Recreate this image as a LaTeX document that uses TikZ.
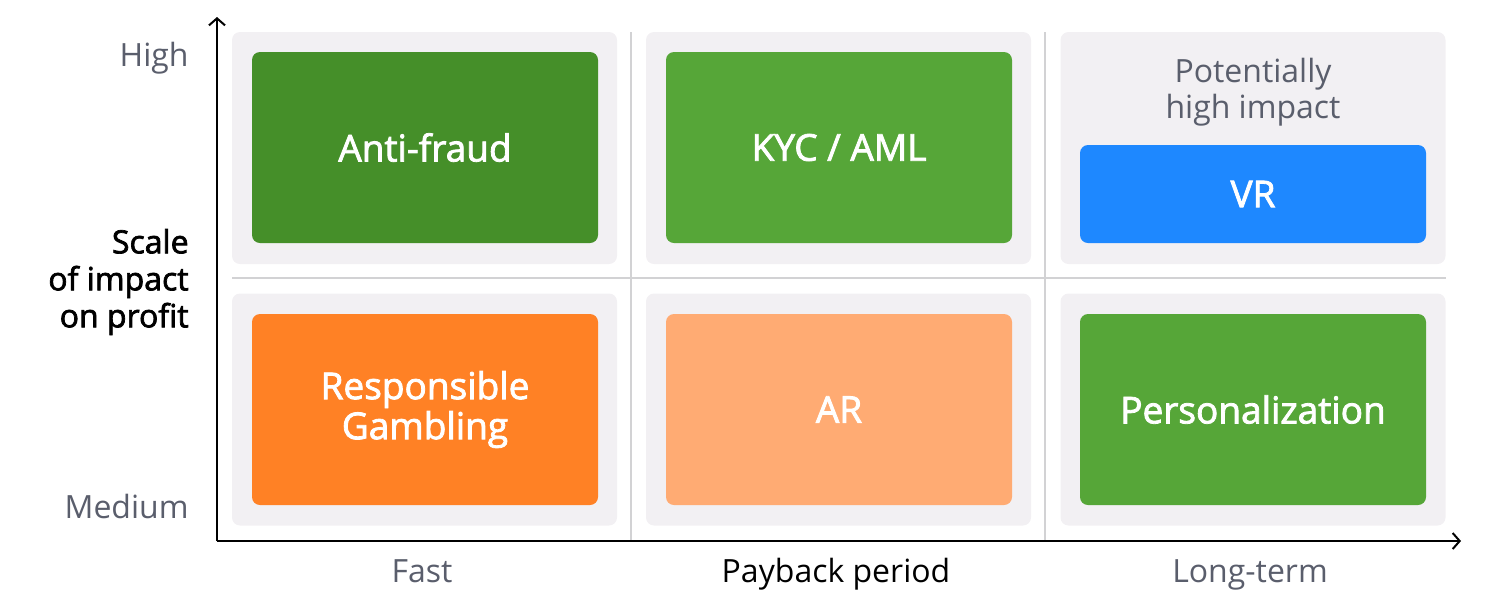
\documentclass[tikz,border=0pt]{standalone}
\usepackage{fontspec}
\setmainfont{Open Sans}
\newfontfamily\medfont{Open Sans}[RawFeature={embolden=2.2}]
\usetikzlibrary{positioning,arrows.meta}
\definecolor{cellgray}{HTML}{F2F0F3}
\definecolor{gridgray}{HTML}{D2D2D4}
\definecolor{labelgray}{HTML}{5A5E6C}
\definecolor{darkgreen}{HTML}{458F29}
\definecolor{midgreen}{HTML}{56A638}
\definecolor{vrblue}{HTML}{1E88FF}
\definecolor{rgorange}{HTML}{FF8125}
\definecolor{arpeach}{HTML}{FFAB73}

\begin{document}
\begin{tikzpicture}[x=0.5pt,y=-0.5pt,>={Straight Barb[length=3.5pt,width=8pt]},
    cell/.style={fill=cellgray,rounded corners=4pt,minimum width=192.5pt,minimum height=116pt,inner sep=0pt},
    tile/.style={rounded corners=4pt,minimum width=173pt,minimum height=95.5pt,inner sep=0pt,
        text=white,font=\medfont\fontsize{18.5}{20}\selectfont,align=center},
    axislabel/.style={text=labelgray,inner sep=0pt,font=\fontsize{16}{18}\selectfont}]
    \useasboundingbox (0,0) rectangle (1502,612);
    % background cells
    \node[cell] (c11) at (424.5,148) {};
    \node[cell] (c21) at (838.5,148) {};
    \node[cell] (c31) at (1253,148) {};
    \node[cell] (c12) at (424.5,409.5) {};
    \node[cell] (c22) at (838.5,409.5) {};
    \node[cell] (c32) at (1253,409.5) {};
    % grid lines
    \coordinate (gl) at (232,278);
    \coordinate (gr) at (1446,278);
    \coordinate (v1t) at (631,32);
    \coordinate (v1b) at (631,540);
    \coordinate (v2t) at (1045,32);
    \coordinate (v2b) at (1045,540);
    \draw[gridgray,line width=1pt] (gl) -- (gr);
    \draw[gridgray,line width=1pt] (v1t) -- (v1b);
    \draw[gridgray,line width=1pt] (v2t) -- (v2b);
    % tiles
    \node[tile,fill=darkgreen] (antifraud) at (425,147.5) {Anti-fraud};
    \node[tile,fill=midgreen] (kyc) at (839,147.5) {KYC / AML};
    \node[tile,fill=vrblue,minimum height=49pt] (vr) at (1253,194) {VR};
    \node[axislabel,align=center,above=9pt of vr] (potential) {Potentially\\high impact};
    \node[tile,fill=rgorange] (resp) at (425,409.5) {Responsible\\Gambling};
    \node[tile,fill=arpeach] (ar) at (839,409.5) {AR};
    \node[tile,fill=midgreen] (pers) at (1253,409.5) {Personalization};
    % axes
    \coordinate (origin) at (217,541);
    \coordinate (ytop) at (217,17);
    \coordinate (xend) at (1461,541);
    \draw[->,line width=1pt] (origin) -- (ytop);
    \draw[->,line width=1pt] (origin) -- (xend);
    % axis labels
    \node[axislabel,anchor=base east] (high) at (189,66) {High};
    \node[axislabel,anchor=base east] (medium) at (189,518) {Medium};
    \node[axislabel,anchor=east,align=right,text=black,font=\medfont\fontsize{16}{18.5}\selectfont] (scale) at (189,282) {Scale\\of impact\\on profit};
    \node[axislabel,anchor=base] (fast) at (422,582) {Fast};
    \node[axislabel,anchor=base,text=black] (payback) at (836,582) {Payback period};
    \node[axislabel,anchor=base] (longterm) at (1250,582) {Long-term};
\end{tikzpicture}
\end{document}
